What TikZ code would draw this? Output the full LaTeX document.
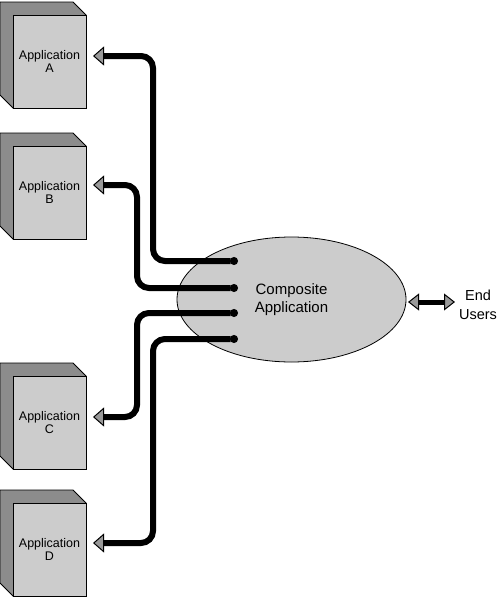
\documentclass[tikz,border=0pt]{standalone}
\usepackage{fontspec}
\setmainfont{Liberation Sans}
\usepackage{tikz}
\usetikzlibrary{arrows.meta,shapes.geometric,backgrounds}
\usepackage{xcolor}

\definecolor{facegray}{HTML}{CCCCCC}
\definecolor{sidegray}{HTML}{8C8C8C}
\definecolor{tipgray}{HTML}{999999}

\tikzset{
  appbox/.style={draw, line width=0.8pt, fill=facegray, minimum width=73pt, minimum height=93pt,
    inner sep=0pt, outer sep=0pt, align=center, font=\fontsize{12.5}{13}\selectfont},
  depth/.style={draw, line width=0.8pt, fill=sidegray},
  link/.style={line width=6pt, rounded corners=12pt,
    {Circle[length=8pt,line width=1pt]}-{Triangle[length=11pt,width=19pt,fill=tipgray,line width=1pt]}},
  dlink/.style={line width=5pt,
    {Triangle[length=11pt,width=17pt,fill=tipgray,line width=1pt]}-{Triangle[length=11pt,width=17pt,fill=tipgray,line width=1pt]}},
}

\begin{document}
\begin{tikzpicture}[x=1pt,y=-1pt]
\useasboundingbox (0,0) rectangle (500,597);

% applications
\node[appbox] (appA) at (49.5,61.5) {Application\\A};
\node[appbox] (appB) at (49.5,192.5) {Application\\B};
\node[appbox] (appC) at (49.5,422.5) {Application\\C};
\node[appbox] (appD) at (49.5,549.5) {Application\\D};

\begin{scope}[on background layer]
\foreach \n in {appA,appB,appC,appD}
  \draw[depth] (\n.south west) -- ++(-13,-13) |- ([shift={(-13,-13)}]\n.north east) -- (\n.north east) -- cycle;
\end{scope}

% composite
\node[ellipse, draw, line width=0.8pt, fill=facegray, minimum width=229pt, minimum height=125pt,
  inner sep=0pt, align=center, font=\fontsize{15}{18}\selectfont] (comp) at (291.5,299.5) {Composite\\Application};

\node[align=center, inner sep=0pt, font=\fontsize{14.5}{19}\selectfont] (users) at (478,305) {End\\Users};

\coordinate (pA) at (238,261);
\coordinate (pB) at (238,288);
\coordinate (pC) at (238,313);
\coordinate (pD) at (238,339);
\coordinate (tA) at (93,56);
\coordinate (tB) at (93,185);
\coordinate (tC) at (93,417);
\coordinate (tD) at (93,543);

\draw[link] (pA) -| ([xshift=60pt]tA) -- (tA);
\draw[link] (pB) -| ([xshift=44pt]tB) -- (tB);
\draw[link] (pC) -| ([xshift=44pt]tC) -- (tC);
\draw[link] (pD) -| ([xshift=60pt]tD) -- (tD);

\coordinate (uL) at (408,302);
\coordinate (uR) at (455,302);
\draw[dlink] (uL) -- (uR);

\end{tikzpicture}
\end{document}
